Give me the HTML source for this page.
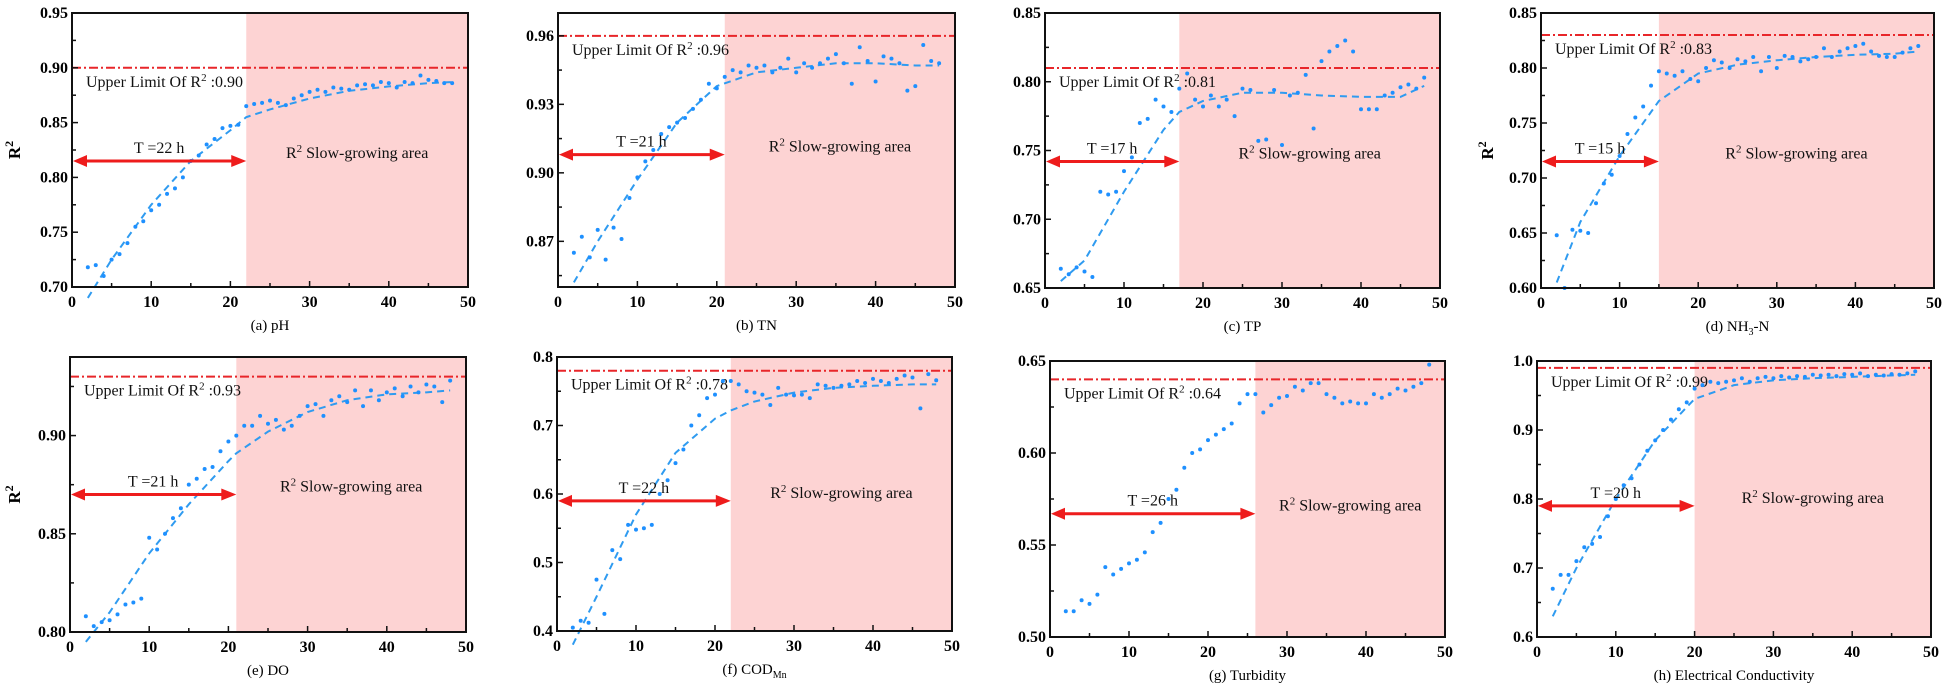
<!DOCTYPE html>
<html><head><meta charset="utf-8"><style>
html,body{margin:0;padding:0;background:#fff}
svg{display:block}
text{font-family:"Liberation Serif",serif}
.tick{font-weight:bold;font-size:16px}
.ann{font-size:16px}
.cap{font-size:15px}
</style></head><body>
<svg id="fig" width="1949" height="692" viewBox="0 0 1949 692" xmlns="http://www.w3.org/2000/svg"></svg>
<script>
// ---- data ----
const hours = [2,3,4,5,6,7,8,9,10,11,12,13,14,15,16,17,18,19,20,21,22,23,24,25,26,27,28,29,30,31,32,33,34,35,36,37,38,39,40,41,42,43,44,45,46,47,48];
const xTicks = [0,10,20,30,40,50];
const captions = ["(a) pH","(b) TN","(c) TP","(d) NH3-N","(e) DO","(f) COD","(g) Turbidity","(h) Electrical Conductivity"];
const limits = [0.90,0.96,0.81,0.83,0.93,0.78,0.64,0.99];
const limitLabels = ["0.90","0.96","0.81","0.83","0.93","0.78","0.64","0.99"];
const thresholds = [22,21,17,15,21,22,26,20];
const arrowLevels = [0.815,0.908,0.742,0.715,0.87,0.59,0.567,0.79];
const yMins = [0.70,0.85,0.65,0.60,0.80,0.4,0.50,0.6];
const yMaxs = [0.95,0.97,0.85,0.85,0.94,0.8,0.65,1.0];
const yTicksA = ["0.70","0.75","0.80","0.85","0.90","0.95"];
const yTicksB = ["0.87","0.90","0.93","0.96"];
const yTicksC = ["0.65","0.70","0.75","0.80","0.85"];
const yTicksD = ["0.60","0.65","0.70","0.75","0.80","0.85"];
const yTicksE = ["0.80","0.85","0.90"];
const yTicksF = ["0.4","0.5","0.6","0.7","0.8"];
const yTicksG = ["0.50","0.55","0.60","0.65"];
const yTicksH = ["0.6","0.7","0.8","0.9","1.0"];
const seriesA = [0.718,0.72,0.71,0.725,0.73,0.74,0.755,0.76,0.77,0.775,0.785,0.79,0.80,0.815,0.82,0.83,0.835,0.845,0.847,0.848,0.865,0.867,0.868,0.87,0.868,0.866,0.872,0.875,0.878,0.88,0.878,0.882,0.881,0.88,0.884,0.885,0.884,0.887,0.886,0.882,0.887,0.886,0.893,0.889,0.888,0.886,0.886];
const seriesB = [0.865,0.872,0.863,0.875,0.862,0.876,0.871,0.889,0.898,0.905,0.91,0.917,0.92,0.922,0.924,0.928,0.932,0.939,0.937,0.942,0.945,0.944,0.947,0.946,0.947,0.944,0.946,0.95,0.944,0.948,0.946,0.948,0.95,0.952,0.948,0.939,0.955,0.949,0.94,0.951,0.95,0.948,0.936,0.938,0.956,0.949,0.948];
const seriesC = [0.664,0.66,0.665,0.662,0.658,0.72,0.718,0.72,0.735,0.745,0.77,0.773,0.787,0.782,0.778,0.795,0.806,0.787,0.782,0.79,0.782,0.787,0.775,0.795,0.794,0.757,0.758,0.794,0.754,0.79,0.792,0.805,0.766,0.815,0.822,0.826,0.83,0.822,0.78,0.78,0.78,0.79,0.792,0.796,0.798,0.795,0.803];
const seriesD = [0.648,0.60,0.653,0.652,0.65,0.677,0.695,0.703,0.72,0.74,0.755,0.765,0.784,0.797,0.795,0.793,0.797,0.79,0.788,0.80,0.807,0.805,0.80,0.808,0.806,0.81,0.797,0.81,0.80,0.811,0.81,0.806,0.808,0.81,0.818,0.81,0.815,0.818,0.82,0.822,0.815,0.811,0.81,0.81,0.814,0.818,0.82];
const seriesE = [0.808,0.803,0.805,0.806,0.809,0.814,0.815,0.817,0.848,0.842,0.85,0.858,0.863,0.875,0.878,0.883,0.884,0.892,0.897,0.90,0.905,0.905,0.91,0.906,0.908,0.903,0.905,0.91,0.915,0.916,0.91,0.918,0.92,0.917,0.923,0.915,0.923,0.918,0.922,0.924,0.92,0.925,0.922,0.926,0.925,0.917,0.928];
const seriesF = [0.405,0.415,0.412,0.475,0.425,0.518,0.505,0.555,0.548,0.55,0.555,0.60,0.62,0.645,0.665,0.70,0.715,0.74,0.745,0.765,0.765,0.76,0.75,0.748,0.745,0.73,0.755,0.745,0.744,0.745,0.74,0.76,0.758,0.755,0.758,0.76,0.765,0.762,0.768,0.765,0.762,0.768,0.773,0.77,0.725,0.775,0.766];
const seriesG = [0.514,0.514,0.52,0.518,0.523,0.538,0.534,0.537,0.54,0.542,0.546,0.557,0.562,0.575,0.58,0.592,0.60,0.602,0.607,0.61,0.613,0.616,0.627,0.632,0.632,0.622,0.626,0.63,0.631,0.636,0.634,0.638,0.638,0.632,0.63,0.627,0.628,0.627,0.627,0.632,0.63,0.632,0.635,0.634,0.636,0.638,0.648];
const seriesH = [0.67,0.69,0.69,0.71,0.73,0.735,0.745,0.775,0.80,0.82,0.83,0.85,0.87,0.885,0.90,0.915,0.93,0.94,0.96,0.965,0.97,0.968,0.97,0.972,0.975,0.97,0.975,0.977,0.975,0.978,0.976,0.978,0.977,0.98,0.979,0.98,0.978,0.981,0.98,0.982,0.978,0.98,0.979,0.981,0.98,0.982,0.985];
const fitHoursA = [2,5,10,15,20,22,25,30,35,40,45,48];
const fitA = [0.69,0.725,0.775,0.815,0.843,0.855,0.862,0.872,0.879,0.883,0.886,0.887];
const fitHoursB = [2,5,10,15,20,25,30,35,40,45,48];
const fitB = [0.852,0.87,0.897,0.922,0.938,0.944,0.946,0.948,0.948,0.947,0.947];
const fitHoursC = [2,5,10,15,17,20,25,30,35,40,45,48];
const fitC = [0.655,0.67,0.72,0.765,0.778,0.786,0.792,0.792,0.79,0.789,0.789,0.797];
const fitHoursD = [2,5,10,15,20,25,30,35,40,45,48];
const fitD = [0.605,0.66,0.72,0.77,0.795,0.803,0.807,0.81,0.812,0.813,0.815];
const fitHoursE = [2,5,10,15,20,21,25,30,35,40,45,48];
const fitE = [0.795,0.81,0.84,0.865,0.887,0.891,0.902,0.912,0.918,0.921,0.922,0.923];
const fitHoursF = [2,5,10,15,20,22,25,30,35,40,45,48];
const fitF = [0.38,0.45,0.57,0.66,0.71,0.722,0.735,0.748,0.755,0.758,0.76,0.76];
const fitHoursG = [];
const fitG = [];
const fitHoursH = [2,5,10,15,20,25,30,35,40,45,48];
const fitH = [0.63,0.70,0.80,0.885,0.945,0.965,0.972,0.975,0.977,0.979,0.98];

// ---- layout (pixel boxes, not data) ----
const boxes = [
 {l:72,r:468,t:13,b:287},{l:558,r:955,t:13,b:287},{l:1045,r:1440,t:13,b:288},{l:1541,r:1934,t:13,b:288},
 {l:70,r:466,t:357,b:632},{l:557,r:952,t:357,b:631},{l:1050,r:1445,t:361,b:637},{l:1537,r:1931,t:361,b:637}];
const yTickSets=[yTicksA,yTicksB,yTicksC,yTicksD,yTicksE,yTicksF,yTicksG,yTicksH];
const allSeries=[seriesA,seriesB,seriesC,seriesD,seriesE,seriesF,seriesG,seriesH];
const allFitH=[fitHoursA,fitHoursB,fitHoursC,fitHoursD,fitHoursE,fitHoursF,fitHoursG,fitHoursH];
const allFit=[fitA,fitB,fitC,fitD,fitE,fitF,fitG,fitH];
const showR2=[true,false,false,true,true,false,false,false];
const r2x=[20,0,0,1493,20,0,0,0];
const keys="abcdefgh";

const NS="http://www.w3.org/2000/svg";
const svg=document.getElementById('fig');
function mk(tag,attrs,parent){const e=document.createElementNS(NS,tag);for(const k in attrs)e.setAttribute(k,attrs[k]);(parent||svg).appendChild(e);return e;}

for(let p=0;p<8;p++){
  const B=boxes[p], k=keys[p];
  const g=mk('g',{});
  
  
  const xs=h=>B.l+(h/50)*(B.r-B.l);
  const ys=v=>B.b-(v-yMins[p])/(yMaxs[p]-yMins[p])*(B.b-B.t);
  // pink region
  const pink=mk('rect',{x:xs(thresholds[p]),y:B.t,width:B.r-xs(thresholds[p]),height:B.b-B.t,fill:'#fdd3d3'},g);
  
  
  // limit line
  const ll=mk('line',{x1:B.l,x2:B.r,y1:ys(limits[p]),y2:ys(limits[p]),stroke:'#e8262a','stroke-width':2,'stroke-dasharray':'9,3,2,3'},g);
  
  
  const lt=mk('text',{x:B.l+14,y:ys(limits[p])+19,class:'ann',fill:'#111'},g);
  lt.innerHTML='Upper Limit Of  R<tspan dy="-6" font-size="11">2</tspan><tspan dy="6"> :'+limitLabels[p]+'</tspan>';
  
  
  // fit curve
  if(allFitH[p].length){
    const pts=allFitH[p].map((h,i)=>xs(h)+','+ys(allFit[p][i])).join(' ');
    const fl=mk('polyline',{points:pts,fill:'none',stroke:'#2f9bf0','stroke-width':2,'stroke-dasharray':'7,5'},g);
    
    
  }
  // scatter
  hours.forEach((h,i)=>{
    const c=mk('circle',{cx:xs(h),cy:ys(allSeries[p][i]),r:2,fill:'#1e90ff'},g);
    
    
  });
  // arrow
  const ay=ys(arrowLevels[p]), ax2=xs(thresholds[p]);
  const ar=mk('g',{},g);
  
  
  mk('line',{x1:B.l+10,x2:ax2-10,y1:ay,y2:ay,stroke:'#ee1c1c','stroke-width':3},ar);
  mk('polygon',{points:`${B.l+1},${ay} ${B.l+15},${ay-6} ${B.l+15},${ay+6}`,fill:'#ee1c1c'},ar);
  mk('polygon',{points:`${ax2},${ay} ${ax2-15},${ay-6} ${ax2-15},${ay+6}`,fill:'#ee1c1c'},ar);
  const tl=mk('text',{x:(B.l+ax2)/2,y:ay-8,'text-anchor':'middle',class:'ann',fill:'#111'},g);
  tl.textContent='T ='+thresholds[p]+' h';
  
  
  const sl=mk('text',{x:(ax2+B.r)/2,y:ay-3,'text-anchor':'middle',class:'ann',fill:'#111'},g);
  sl.innerHTML='R<tspan dy="-6" font-size="11">2</tspan><tspan dy="6"> Slow-growing area</tspan>';
  
  
  // frame
  const fr=mk('rect',{x:B.l,y:B.t,width:B.r-B.l,height:B.b-B.t,fill:'none',stroke:'#111','stroke-width':2},g);
  
  
  // x ticks
  for(let h=0;h<=50;h+=5){mk('line',{x1:xs(h),x2:xs(h),y1:B.b,y2:B.b-(h%10?4:6),stroke:'#111','stroke-width':1.5},g);}
  xTicks.forEach(v=>{
    const t=mk('text',{x:xs(v),y:B.b+20,'text-anchor':'middle',class:'tick'},g);
    t.textContent=v;
    
    
  });
  // y ticks
  const yt=yTickSets[p];
  yt.forEach((s,i)=>{
    const v=parseFloat(s), y=ys(v);
    mk('line',{x1:B.l,x2:B.l+6,y1:y,y2:y,stroke:'#111','stroke-width':1.5},g);
    if(i<yt.length-1 || true){const step=i>0?v-parseFloat(yt[i-1]):parseFloat(yt[1])-v;const mv=v+step/2;if(mv<yMaxs[p])mk('line',{x1:B.l,x2:B.l+4,y1:ys(mv),y2:ys(mv),stroke:'#111','stroke-width':1.5},g);
      const mb=v-step/2; if(i==0&&mb>yMins[p])mk('line',{x1:B.l,x2:B.l+4,y1:ys(mb),y2:ys(mb),stroke:'#111','stroke-width':1.5},g);}
    const t=mk('text',{x:B.l-4,y:y+5,'text-anchor':'end',class:'tick'},g);
    t.textContent=s;
    
    
  });
  if(showR2[p]){
    const cy=(B.t+B.b)/2;
    const r=mk('text',{x:r2x[p],y:cy,transform:`rotate(-90 ${r2x[p]} ${cy})`,'text-anchor':'middle','font-weight':'bold','font-size':'17px'},g);
    r.innerHTML='R<tspan dy="-7" font-size="12">2</tspan>';
    
    
  }
  const cap=mk('text',{x:(B.l+B.r)/2,y:B.b+43,'text-anchor':'middle',class:'cap'},g);
  if(p==3) cap.innerHTML='(d) NH<tspan dy="4" font-size="10">3</tspan><tspan dy="-4">-N</tspan>';
  else if(p==5) cap.innerHTML='(f) COD<tspan dy="4" font-size="10">Mn</tspan>';
  else cap.textContent=captions[p];
  
  
}
</script>
</body></html>
